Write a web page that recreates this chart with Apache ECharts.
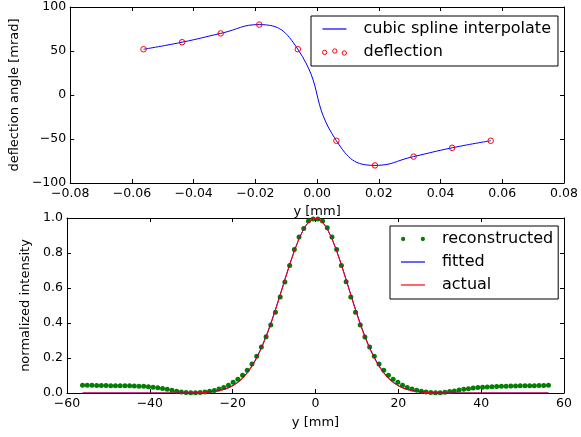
<!DOCTYPE html>
<html>
<head>
<meta charset="utf-8">
<script src="https://cdn.jsdelivr.net/npm/echarts@6/dist/echarts.min.js"></script>
<style>
  html, body { margin: 0; padding: 0; background: #fff; }
  #chart { width: 581px; height: 437px; }
</style>
</head>
<body>
<div id="chart"></div>
<script>
// Deflection samples (upper panel)
const deflectionY = [-0.05625, -0.04375, -0.03125, -0.01875, -0.00625, 0.00625, 0.01875, 0.03125, 0.04375, 0.05625];
const deflectionAngle = [52, 60, 70, 80, 52, -52, -80, -70, -60, -52];

// Intensity profile grid (lower panel)
const profileY = [
  -56.25, -55.11, -53.98, -52.84, -51.70, -50.57, -49.43, -48.30, -47.16, -46.02,
  -44.89, -43.75, -42.61, -41.48, -40.34, -39.20, -38.07, -36.93, -35.80, -34.66,
  -33.52, -32.39, -31.25, -30.11, -28.98, -27.84, -26.70, -25.57, -24.43, -23.30,
  -22.16, -21.02, -19.89, -18.75, -17.61, -16.48, -15.34, -14.20, -13.07, -11.93,
  -10.80, -9.66, -8.52, -7.39, -6.25, -5.11, -3.98, -2.84, -1.70, -0.57,
  0.57, 1.70, 2.84, 3.98, 5.11, 6.25, 7.39, 8.52, 9.66, 10.80,
  11.93, 13.07, 14.20, 15.34, 16.48, 17.61, 18.75, 19.89, 21.02, 22.16,
  23.30, 24.43, 25.57, 26.70, 27.84, 28.98, 30.11, 31.25, 32.39, 33.52,
  34.66, 35.80, 36.93, 38.07, 39.20, 40.34, 41.48, 42.61, 43.75, 44.89,
  46.02, 47.16, 48.30, 49.43, 50.57, 51.70, 52.84, 53.98, 55.11, 56.25
];

const reconstructed = [
  0.044, 0.044, 0.044, 0.043, 0.043, 0.043, 0.042, 0.042, 0.042, 0.041,
  0.041, 0.040, 0.039, 0.038, 0.036, 0.033, 0.030, 0.026, 0.021, 0.016,
  0.010, 0.006, 0.003, 0.001, 0.001, 0.003, 0.006, 0.010, 0.015, 0.023,
  0.032, 0.045, 0.061, 0.079, 0.102, 0.130, 0.166, 0.210, 0.263, 0.322,
  0.389, 0.462, 0.548, 0.634, 0.729, 0.820, 0.891, 0.940, 0.983, 0.995,
  0.995, 0.983, 0.944, 0.891, 0.820, 0.729, 0.636, 0.548, 0.462, 0.389,
  0.320, 0.263, 0.210, 0.166, 0.130, 0.101, 0.078, 0.061, 0.044, 0.031,
  0.023, 0.016, 0.010, 0.006, 0.003, 0.001, 0.001, 0.004, 0.008, 0.012,
  0.017, 0.021, 0.025, 0.028, 0.031, 0.033, 0.035, 0.036, 0.037, 0.038,
  0.039, 0.040, 0.040, 0.041, 0.041, 0.042, 0.042, 0.043, 0.043, 0.044
];

const fitted = [
  0, 0, 0, 0, 0, 0, 0, 0, 0, 0,
  0, 0, 0, 0, 0, 0, 0, 0, 0, 0,
  0.0001, 0.0002, 0.0004, 0.0008, 0.0013, 0.0022, 0.0035, 0.0057, 0.0089, 0.0137,
  0.0206, 0.0303, 0.0438, 0.0619, 0.0859, 0.1167, 0.1553, 0.2027, 0.2590, 0.3242,
  0.3978, 0.4780, 0.5629, 0.6495, 0.7342, 0.8131, 0.8824, 0.9381, 0.9773, 0.9975,
  0.9975, 0.9773, 0.9381, 0.8824, 0.8131, 0.7342, 0.6495, 0.5629, 0.4780, 0.3978,
  0.3242, 0.2590, 0.2027, 0.1553, 0.1167, 0.0859, 0.0619, 0.0438, 0.0303, 0.0206,
  0.0137, 0.0089, 0.0057, 0.0035, 0.0022, 0.0013, 0.0008, 0.0004, 0.0002, 0.0001,
  0, 0, 0, 0, 0, 0, 0, 0, 0, 0,
  0, 0, 0, 0, 0, 0, 0, 0, 0, 0
];

const actual = [
  0, 0, 0, 0, 0, 0, 0, 0, 0, 0,
  0, 0, 0, 0, 0, 0, 0, 0, 0, 0,
  0.0001, 0.0002, 0.0004, 0.0007, 0.0012, 0.0020, 0.0033, 0.0053, 0.0084, 0.0129,
  0.0196, 0.0290, 0.0421, 0.0598, 0.0833, 0.1136, 0.1517, 0.1986, 0.2546, 0.3196,
  0.3931, 0.4736, 0.5588, 0.6459, 0.7312, 0.8110, 0.8810, 0.9374, 0.9770, 0.9974,
  0.9974, 0.9770, 0.9374, 0.8810, 0.8110, 0.7312, 0.6459, 0.5588, 0.4736, 0.3931,
  0.3196, 0.2546, 0.1986, 0.1517, 0.1136, 0.0833, 0.0598, 0.0421, 0.0290, 0.0196,
  0.0129, 0.0084, 0.0053, 0.0033, 0.0020, 0.0012, 0.0007, 0.0004, 0.0002, 0.0001,
  0, 0, 0, 0, 0, 0, 0, 0, 0, 0,
  0, 0, 0, 0, 0, 0, 0, 0, 0, 0
];

// Axis tick positions
const topXTicks = [-0.08, -0.06, -0.04, -0.02, 0, 0.02, 0.04, 0.06, 0.08];
const topYTicks = [-100, -50, 0, 50, 100];
const bottomXTicks = [-60, -40, -20, 0, 20, 40, 60];
const bottomYTicks = [0, 0.2, 0.4, 0.6, 0.8, 1.0];

const FONT = 'DejaVu Sans';
const minus = s => s.replace('-', '\u2212');
const fmtTopX = v => Math.abs(v) < 1e-9 ? '0.00' : minus(v.toFixed(2));
const fmtInt = v => minus(String(Math.round(v)));
const fmtOne = v => v.toFixed(1);

const pairs = (xs, ys) => xs.map((x, i) => [x, ys[i]]);

function axis(gridIndex, position, ticks, formatter, labelled, extra) {
  const step = ticks[1] - ticks[0];
  return Object.assign({
    type: 'value',
    gridIndex,
    position,
    min: ticks[0],
    max: ticks[ticks.length - 1],
    interval: step,
    axisLine: { show: true, onZero: false, lineStyle: { color: '#000', width: 1 } },
    axisTick: { show: true, inside: true, length: 4, lineStyle: { color: '#000', width: 1 } },
    splitLine: { show: false },
    axisLabel: {
      show: labelled, margin: 4, color: '#000',
      fontFamily: FONT, fontSize: 12.5, formatter
    },
    nameTextStyle: { fontFamily: FONT, fontSize: 13, color: '#000' }
  }, extra || {});
}

// Legend handles: a plain stroke for lines, marker groups for point series
const lineHandle = 'path://M0,0H24V1.2H0Z';
const threeCircles = 'path://M0,4.1a2.5,2.5 0 1,0 5,0a2.5,2.5 0 1,0 -5,0' +
  'M11.7,2.5a2.5,2.5 0 1,0 5,0a2.5,2.5 0 1,0 -5,0' +
  'M22.7,4.8a2.5,2.5 0 1,0 5,0a2.5,2.5 0 1,0 -5,0';
const twoDots = 'path://M0,2.5a2.5,2.5 0 1,0 5,0a2.5,2.5 0 1,0 -5,0' +
  'M23,2.5a2.5,2.5 0 1,0 5,0a2.5,2.5 0 1,0 -5,0';

const legendText = { fontFamily: FONT, fontSize: 16, lineHeight: 16, color: '#000', padding: [0, 0, 0, 12] };

const chart = echarts.init(document.getElementById('chart'), null, { renderer: 'canvas' });
chart.setOption({
  animation: false,
  backgroundColor: '#fff',
  grid: [
    { left: 67, top: 7, width: 497, height: 176, containLabel: false },
    { left: 67, top: 218, width: 497, height: 175, containLabel: false }
  ],
  xAxis: [
    axis(0, 'bottom', topXTicks, fmtTopX, true, { name: 'y [mm]', nameLocation: 'middle', nameGap: 22 }),
    axis(0, 'top', topXTicks, fmtTopX, false),
    axis(1, 'bottom', bottomXTicks, fmtInt, true, { name: 'y [mm]', nameLocation: 'middle', nameGap: 23 }),
    axis(1, 'top', bottomXTicks, fmtInt, false)
  ],
  yAxis: [
    axis(0, 'left', topYTicks, fmtInt, true, { name: 'deflection angle [mrad]', nameLocation: 'middle', nameGap: 47 }),
    axis(0, 'right', topYTicks, fmtInt, false),
    axis(1, 'left', bottomYTicks, fmtOne, true, { name: 'normalized intensity', nameLocation: 'middle', nameGap: 29 }),
    axis(1, 'right', bottomYTicks, fmtOne, false)
  ],
  legend: [
    {
      orient: 'vertical', left: 311, top: 16,
      itemWidth: 24, itemHeight: 12, itemGap: 7,
      padding: [5, 7, 6, 11],
      borderColor: '#000', borderWidth: 1, borderRadius: 0,
      selectedMode: false,
      textStyle: legendText,
      data: [
        { name: 'cubic spline interpolate', icon: lineHandle,
          itemStyle: { color: '#0000ff', borderWidth: 0, opacity: 1 } },
        { name: 'deflection', icon: threeCircles,
          itemStyle: { color: 'rgba(0,0,0,0)', borderColor: '#ff0000', borderWidth: 1, opacity: 1 } }
      ]
    },
    {
      orient: 'vertical', left: 390, top: 226,
      itemWidth: 24, itemHeight: 12, itemGap: 7,
      padding: [5, 5, 6, 11],
      borderColor: '#000', borderWidth: 1, borderRadius: 0,
      selectedMode: false,
      textStyle: legendText,
      data: [
        { name: 'reconstructed', icon: twoDots,
          itemStyle: { color: '#007f00', borderWidth: 0, opacity: 1 } },
        { name: 'fitted', icon: lineHandle,
          itemStyle: { color: '#0000ff', borderWidth: 0, opacity: 1 } },
        { name: 'actual', icon: lineHandle,
          itemStyle: { color: '#ff0000', borderWidth: 0, opacity: 1 } }
      ]
    }
  ],
  series: [
    {
      type: 'line', name: 'cubic spline interpolate',
      xAxisIndex: 0, yAxisIndex: 0,
      data: pairs(deflectionY, deflectionAngle),
      smooth: 0.5, symbol: 'none', z: 2,
      lineStyle: { color: '#0000ff', width: 1 },
      itemStyle: { color: '#0000ff' }
    },
    {
      type: 'scatter', name: 'deflection',
      xAxisIndex: 0, yAxisIndex: 0,
      data: pairs(deflectionY, deflectionAngle),
      symbol: 'circle', symbolSize: 5.5, z: 3,
      itemStyle: { color: 'rgba(0,0,0,0)', borderColor: '#ff0000', borderWidth: 1, opacity: 1 }
    },
    {
      type: 'scatter', name: 'reconstructed',
      xAxisIndex: 2, yAxisIndex: 2,
      data: pairs(profileY, reconstructed),
      symbol: 'circle', symbolSize: 5, z: 2,
      itemStyle: { color: '#007f00', opacity: 1 }
    },
    {
      type: 'line', name: 'fitted',
      xAxisIndex: 2, yAxisIndex: 2,
      data: pairs(profileY, fitted),
      symbol: 'none', z: 3,
      lineStyle: { color: '#0000ff', width: 1 },
      itemStyle: { color: '#0000ff' }
    },
    {
      type: 'line', name: 'actual',
      xAxisIndex: 2, yAxisIndex: 2,
      data: pairs(profileY, actual),
      symbol: 'none', z: 4,
      lineStyle: { color: '#ff0000', width: 1 },
      itemStyle: { color: '#ff0000' }
    }
  ]
});
</script>
</body>
</html>
